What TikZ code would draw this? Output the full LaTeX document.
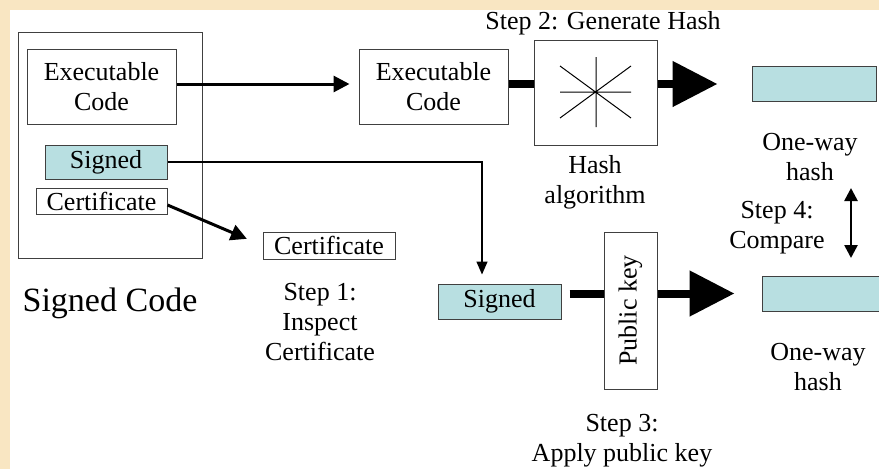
\documentclass[tikz,border=0pt]{standalone}
\usepackage{fontspec}
\setmainfont{Liberation Serif}
\usetikzlibrary{arrows.meta,calc}
\definecolor{bgpeach}{HTML}{F9E6C2}
\definecolor{boxcyan}{HTML}{B8DFE1}
\definecolor{edgegrey}{HTML}{404040}
\tikzset{
  txt/.style={font=\fontsize{26}{30}\selectfont, align=center, inner sep=0pt},
  bigtxt/.style={font=\fontsize{34}{40}\selectfont, align=center, inner sep=0pt},
  box/.style={draw=edgegrey, line width=1pt, inner sep=0pt, fill=white,
              font=\fontsize{26}{30}\selectfont, align=center},
  cbox/.style={box, fill=boxcyan},
  thinarrow/.style={line width=1.4pt, -{Triangle[length=13pt,width=11pt]}},
  medarrow/.style={line width=3pt, -{Triangle[length=16pt,width=16pt]}},
  dblarrow/.style={line width=2.6pt, {Triangle[length=13pt,width=13pt]}-{Triangle[length=13pt,width=13pt]}},
  bigarrow/.style={line width=8pt, -{Triangle[length=45pt,width=44pt]}},
  bar/.style={line width=8pt},
}
\begin{document}
\begin{tikzpicture}[x=1pt,y=-1pt]
\clip (0,0) rectangle (879,469);
\fill[bgpeach] (0,0) rectangle (879,469);
\fill[white] (10,10) rectangle (879,469);

% Signed code container
\node[box, fill=none, minimum width=184pt, minimum height=226pt] (outer) at (110,145) {};
\node[box, minimum width=149pt, minimum height=75pt] (exec1) at (101.5,86.5) {Executable\\Code};
\node[cbox, minimum width=122pt, minimum height=34pt] (sig1) at (106,162) {Signed};
\node[box, minimum width=131pt, minimum height=26pt] (cert1) at (101.5,201) {Certificate};
\node[bigtxt] (sclabel) at (110,303) {Signed Code};

% Step 1
\node[box, minimum width=132pt, minimum height=27pt] (cert2) at (329,245.5) {Certificate};
\node[txt] (step1) at (320,322) {Step 1:\\Inspect\\Certificate};

% Step 2
\node[box, minimum width=149pt, minimum height=75pt] (exec2) at (433.5,86.5) {Executable\\Code};
\node[box, minimum width=123pt, minimum height=105pt] (hash) at (595.5,92.5) {};
\draw[line width=1pt, black] (596,57) -- (596,127)
  (560,92) -- (631,92)
  (560,66) -- (631,118)
  (560,118) -- (631,66);
\node[txt] (step2) at (603,23) {Step 2: Generate Hash};
\node[txt] (hashlbl) at (595,182) {Hash\\algorithm};
\node[cbox, minimum width=124pt, minimum height=35pt] (onew1) at (814,83.5) {};
\node[txt] (oh1) at (810,157) {One-way\\hash};

% Step 3
\node[cbox, minimum width=123pt, minimum height=35pt] (sig2) at (499.5,301.5) {Signed};
\node[box, minimum width=53pt, minimum height=157pt] (pk) at (630.5,310.5) {};
\node[txt, rotate=90] (pklbl) at (pk.center) {Public key};
\node[cbox, minimum width=130pt, minimum height=35pt] (onew2) at (827,293.5) {};
\node[txt] (oh2) at (818,367) {One-way\\hash};
\node[txt] (step3) at (622,441) {Step 3:\\Apply public key};

% Step 4
\node[txt] (step4) at (777,228) {Step 4:\\Compare};
\coordinate (cmpA) at (851,188);
\coordinate (cmpB) at (851,258);

% connectors
\draw[medarrow, shorten >=9pt] ([yshift=2.5pt]exec1.east) -- ([yshift=2.5pt]exec2.west);
\draw[medarrow, shorten >=17pt] ([yshift=-4pt]cert1.east) -- (cert2.west);
\draw[thinarrow, shorten >=9pt] (sig1.east) -| ([xshift=-17.5pt]sig2.north);
\draw[bar] ([yshift=2.5pt]exec2.east) -- ([yshift=2.5pt]exec2.east -| hash.west);
\draw[bigarrow, shorten >=34pt] ([yshift=8.5pt]hash.east) -- ([yshift=-0.5pt]onew1.west);
\draw[bar, shorten <=8pt] ([yshift=8pt]sig2.east) -- ([yshift=8pt]sig2.east -| pk.west);
\draw[bigarrow, shorten >=27pt] ([yshift=17pt]pk.east) -- (onew2.west);
\draw[dblarrow] (cmpA) -- (cmpB);
\end{tikzpicture}
\end{document}
